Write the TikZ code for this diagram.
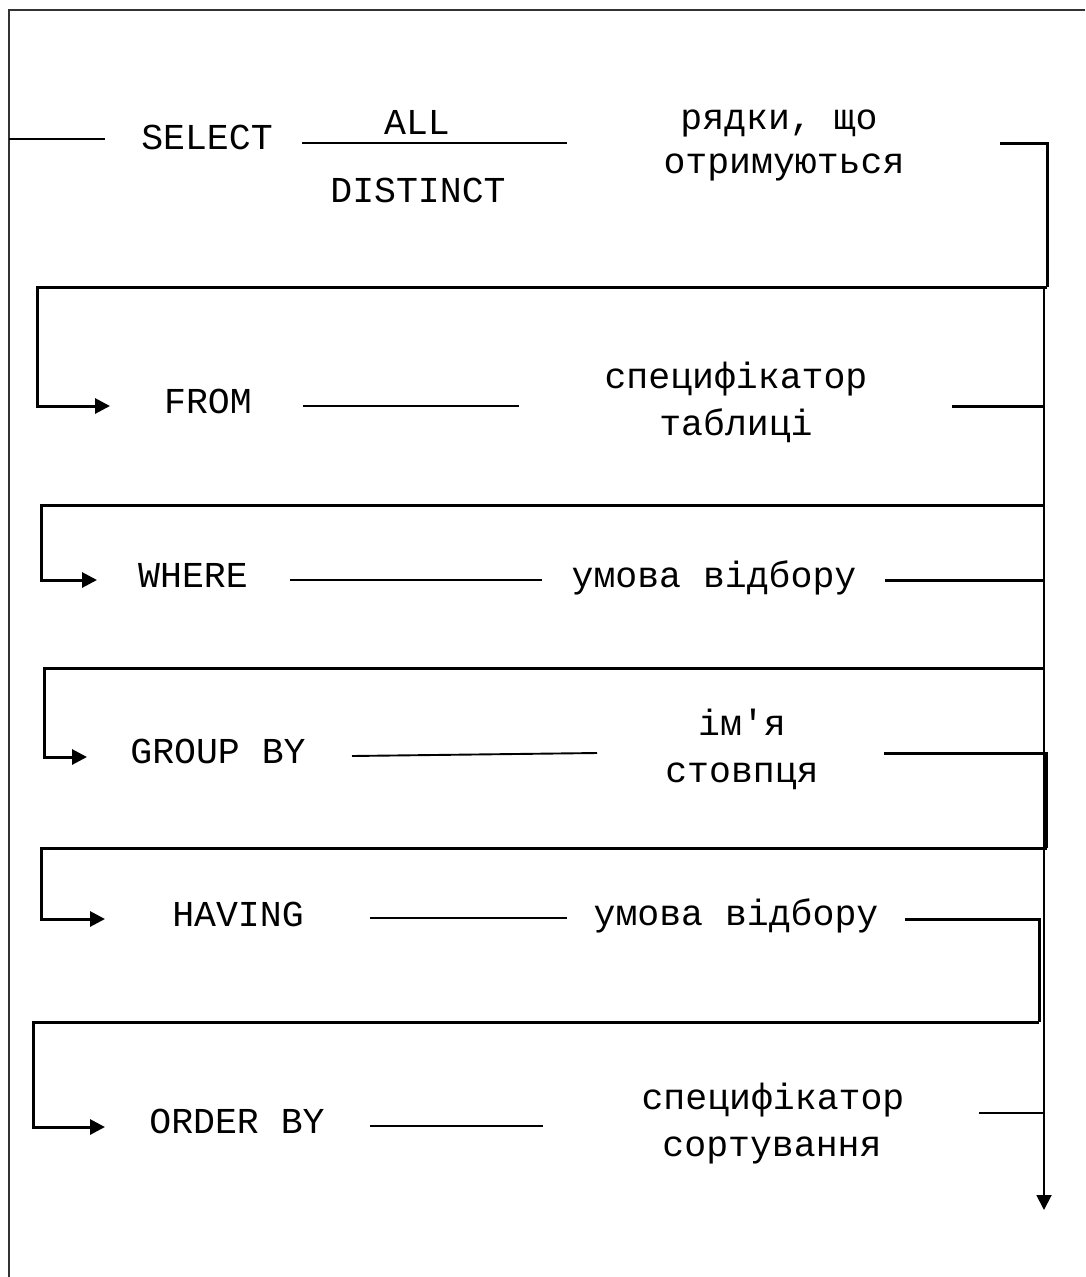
\documentclass[tikz,border=0pt]{standalone}
\usepackage{fontspec}
\setmainfont{Liberation Mono}[Ligatures=TeXOff]
\usetikzlibrary{arrows.meta}
\begin{document}
\begin{tikzpicture}[x=1pt,y=-1pt,
  txt/.style={font=\fontsize{36.5}{44}\selectfont, inner sep=0pt, anchor=base},
  thinln/.style={line width=1.9pt},
  thickln/.style={line width=3pt},
  framel/.style={line width=1.7pt, draw=black!80},
  tip/.style={-{Triangle[length=15pt,width=15pt]}}]
\useasboundingbox (0,0) rectangle (1085,1277);
% frame
\coordinate (fr0) at (9,1277); \coordinate (fr1) at (9,10); \coordinate (fr2) at (1085,10);
\draw[framel] (fr0) -- (fr1) -- (fr2);

% ---- SELECT row
\node[txt] (select) at (207,149) {SELECT};
\node[txt] (all) at (417,134) {ALL};
\node[txt] (distinct) at (418,202) {DISTINCT};
\node[txt] (rows1) at (779,129) {рядки, що};
\node[txt] (rows2) at (784,173) {отримуються};
\coordinate (s0) at (9,139); \coordinate (s1) at (105,139);
\coordinate (s2) at (302,143); \coordinate (s3) at (567,143);
\coordinate (s4) at (1000,143); \coordinate (s5) at (1047,143);
\coordinate (s6) at (1047,287);
\draw[thinln] (s0) -- (s1);
\draw[thinln] (s2) -- (s3);
\draw[thickln] (s4) -- (s5) -- (s6);

% ---- main right vertical
\coordinate (m0) at (1044,287); \coordinate (mend) at (1044,1210);
\draw[thinln,tip] (m0) -- (mend);

% ---- FROM row
\coordinate (f0) at (1047,287); \coordinate (f1) at (37,287); \coordinate (f2) at (110,406);
\draw[thickln,tip] (f0) -- (f1) |- (f2);
\node[txt] (from) at (208,413) {FROM};
\coordinate (f3) at (303,406); \coordinate (f4) at (519,406);
\draw[thinln] (f3) -- (f4);
\node[txt] (spec1) at (736,388) {специфікатор};
\node[txt] (spec2) at (736,435) {таблиці};
\coordinate (f5) at (952,406); \coordinate (f6) at (1044,406);
\draw[thickln] (f5) -- (f6);

% ---- WHERE row
\coordinate (w0) at (1044,505); \coordinate (w1) at (41,505); \coordinate (w2) at (97,580);
\draw[thickln,tip] (w0) -- (w1) |- (w2);
\node[txt] (where) at (193,587) {WHERE};
\coordinate (w3) at (290,580); \coordinate (w4) at (542,580);
\draw[thinln] (w3) -- (w4);
\node[txt] (cond1) at (714,587) {умова відбору};
\coordinate (w5) at (885,580); \coordinate (w6) at (1044,580);
\draw[thickln] (w5) -- (w6);

% ---- GROUP BY row
\coordinate (g0) at (1045,668); \coordinate (g1) at (44,668); \coordinate (g2) at (87,757);
\draw[thickln,tip] (g0) -- (g1) |- (g2);
\node[txt] (group) at (218,763) {GROUP BY};
\coordinate (g3) at (352,756); \coordinate (g4) at (597,753);
\draw[thinln] (g3) -- (g4);
\node[txt] (col1) at (742,735) {ім'я};
\node[txt] (col2) at (742,782) {стовпця};
\coordinate (g5) at (884,753); \coordinate (g6) at (1046.5,753); \coordinate (g7) at (1046.5,848);
\draw[thickln] (g5) -- (g6) -- (g7);

% ---- HAVING row
\coordinate (h0) at (1046.5,848); \coordinate (h1) at (41,848); \coordinate (h2) at (105,919);
\draw[thickln,tip] (h0) -- (h1) |- (h2);
\node[txt] (having) at (238,926) {HAVING};
\coordinate (h3) at (370,918); \coordinate (h4) at (567,918);
\draw[thinln] (h3) -- (h4);
\node[txt] (cond2) at (736,925) {умова відбору};
\coordinate (h5) at (905,919); \coordinate (h6) at (1039,919); \coordinate (h7) at (1039,1022);
\draw[thickln] (h5) -- (h6) -- (h7);

% ---- ORDER BY row
\coordinate (o0) at (1039,1022); \coordinate (o1) at (33,1022); \coordinate (o2) at (105,1127);
\draw[thickln,tip] (o0) -- (o1) |- (o2);
\node[txt] (order) at (237,1133) {ORDER BY};
\coordinate (o3) at (370,1126); \coordinate (o4) at (543,1126);
\draw[thinln] (o3) -- (o4);
\node[txt] (sort1) at (773,1109) {специфікатор};
\node[txt] (sort2) at (772,1156) {сортування};
\coordinate (o5) at (979,1113); \coordinate (o6) at (1044,1113);
\draw[thinln] (o5) -- (o6);
\end{tikzpicture}
\end{document}
